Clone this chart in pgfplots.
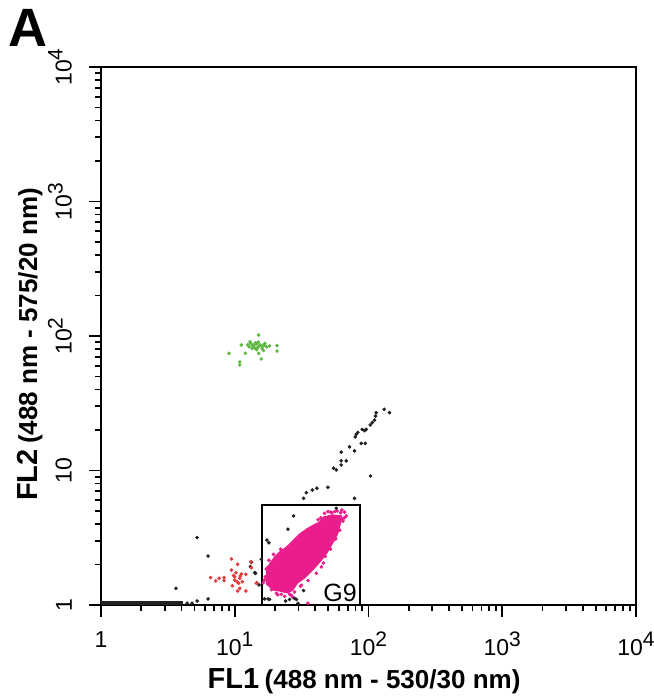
\documentclass[border=0pt]{standalone}
\usepackage{fontspec}
\setmainfont{Liberation Sans}
\usepackage{pgfplots}
\pgfplotsset{compat=1.18}
\definecolor{gpink}{RGB}{233,30,140}
\definecolor{ggreen}{RGB}{95,185,70}
\definecolor{gred}{RGB}{232,60,60}
\definecolor{gdark}{RGB}{35,35,35}
\newcommand{\tl}[1]{\fontsize{11.5}{13}\selectfont #1}
\newcommand{\sps}[1]{\raisebox{4.5pt}{\fontsize{10.5}{12}\selectfont #1}}
\begin{document}
\begin{tikzpicture}
\useasboundingbox (-50.5pt,-47pt) rectangle (276pt,302.5pt);
\begin{axis}[
  at={(0,0)}, anchor=south west,
  scale only axis, width=267.5pt, height=269pt,
  xmode=log, ymode=log,
  xmin=1, xmax=10000, ymin=1, ymax=10000,
  xtick={1,10,100,1000,10000},
  xticklabels={{\tl{1}},{\tl{10\sps{1}}},{\tl{10\sps{2}}},{\tl{10\sps{3}}},{\tl{10\sps{4}}}},
  ytick={1,10,100,1000,10000},
  yticklabels={{\tl{1}},{\tl{10}},{\tl{10\sps{2}}},{\tl{10\sps{3}}},{\tl{10\sps{4}}}},
  minor xtick={2,3,4,5,6,7,8,9,20,30,40,50,60,70,80,90,200,300,400,500,600,700,800,900,2000,3000,4000,5000,6000,7000,8000,9000},
  minor ytick={2,3,4,5,6,7,8,9,20,30,40,50,60,70,80,90,200,300,400,500,600,700,800,900,2000,3000,4000,5000,6000,7000,8000,9000},
  tick pos=left, tick align=outside,
  major tick length=6pt, minor tick length=3pt,
  every tick/.style={black, line width=0.9pt},
  axis line style={line width=1pt},
  xticklabel style={yshift=-4pt},
  yticklabel style={xshift=-5pt, rotate=90, anchor=south},
  xlabel={\bfseries{\fontsize{14.5}{17}\selectfont FL1} {\fontsize{13}{15}\selectfont (488 nm - 530/30 nm)}},
  ylabel={\bfseries{\fontsize{14.5}{17}\selectfont FL2} {\fontsize{13}{15}\selectfont (488 nm - 575/20 nm)}},
  xlabel style={at={(axis description cs:0.4916,-0.1543)}, anchor=base},
  ylabel style={at={(axis description cs:-0.1196,0.4842)}, anchor=base},
]
% dense G9 population core
\addplot[draw=gpink, fill=gpink, line width=0.6pt] coordinates {
(17.3,1.76) (18.2,2.02) (19.9,2.27) (21.7,2.48) (24.4,2.70) (27.6,3.04) (30.6,3.37) (34.5,3.67)
(38.9,3.93) (43.1,4.14) (46.2,4.51) (53.9,4.67) (62.9,4.59) (61.8,4.07) (58.7,3.37) (53.9,2.89)
(49.4,2.48) (43.8,2.12) (38.2,1.82) (33.3,1.59) (29.5,1.46) (27.1,1.29) (24.9,1.23) (21.7,1.27)
(19.5,1.29) (17.3,1.43) (17.3,1.76)};
% G9 fringe events
\addplot[only marks, mark=*, mark size=0.7pt, color=gpink] coordinates {
(46.9,4.80) (49.7,4.95) (58.4,5.00) (61.8,4.85) (66.2,4.90) (68.2,4.59) (63.2,5.08) (53.2,4.85)
(44.0,4.45) (52.0,4.90) (56.0,4.95) (66.0,4.45) (64.5,4.20) (16.7,1.53) (16.3,1.46) (17.6,1.90)
(20.5,1.22) (22.3,1.20) (23.6,1.16) (25.7,1.20) (31.5,1.40) (35.3,1.52) (40.7,1.72) (44.4,1.92)
(26.5,1.18) (35.2,1.03) (28.0,1.25) (16.9,1.62) (18.8,1.30) (17.2,1.85) (18.0,2.15) (19.5,2.38)
(22.0,2.60) (46.0,2.05) (47.5,2.30) (52.0,2.60) (57.0,3.10) (61.0,3.60) (31.0,1.38) (42.0,4.30)
(21.0,1.19) (27.0,1.15) (63.5,4.35) (55.0,3.05)};
% ungated events
\addplot[only marks, mark=*, mark size=0.7pt, color=gdark] coordinates {
(3.63,1.33) (5.23,3.17) (6.32,2.31) (5.23,1.07) (6.32,1.11) (4.80,1.03) (4.40,1.03)
(17.4,3.04) (18.0,2.90) (13.1,1.93) (14.1,1.74) (15.2,1.41) (16.7,1.11) (17.7,1.11) (13.3,2.08)
(14.3,1.72) (14.6,1.46) (15.8,2.19) (27.5,4.59) (25.0,3.66) (57.4,5.24) (32.7,6.21) (34.3,6.84)
(38.0,7.16) (41.1,7.38) (49.7,7.50) (78.6,6.21) (54.8,10.4) (57.4,10.1) (62.5,11.0) (68.2,11.8)
(62.5,11.8) (62.5,13.7) (72.1,15.0) (78.6,14.0) (103.5,9.10) (79.6,17.8) (81.0,18.6) (83.2,19.2)
(88.3,15.9) (94.5,15.9) (93.4,19.8) (96.2,20.2) (103,21.8) (106.6,22.7) (110.8,23.7) (114.1,26.9)
(112.8,25.4) (131,28.5) (143.5,26.9) (89.7,20.2) (25.7,1.10) (28.0,1.12) (28.9,1.10) (32.7,1.28)
(18.2,1.10) (24.0,1.07) (29.7,1.03)};
% events piled on the lower axis
\addplot[gdark, line width=2pt] coordinates {(1,1.04) (4.1,1.04)};
% red population
\addplot[only marks, mark=*, mark size=0.7pt, color=gred] coordinates {
(9.45,2.20) (10.5,2.01) (13.2,2.10) (13.3,1.89) (9.45,1.82) (10.2,1.74) (11.2,1.70) (12.1,1.69)
(6.59,1.60) (7.21,1.51) (7.64,1.58) (8.32,1.60) (8.32,1.52) (10.0,1.62) (10.9,1.58) (10.4,1.49)
(11.4,1.49) (9.61,1.39) (10.9,1.33) (10.5,1.27) (12.1,1.27) (14.5,1.45) (10.0,1.53) (10.7,1.45)
(9.8,1.66) (11.0,1.64)};
% green population
\addplot[only marks, mark=*, mark size=0.7pt, color=ggreen] coordinates {
(15.1,101.7) (11.2,85.7) (9.06,74.3) (12.0,74.3) (15.1,74.3) (20.7,84.7) (20.7,77.3) (15.8,67.5)
(10.9,64.1) (10.9,60.9) (12.5,86) (13.2,88) (13.8,84) (14.3,89) (14.8,82) (15.5,86) (16.2,84)
(16.8,88) (17.3,83) (13.5,81) (12.8,83) (15,90) (16,81) (14,86) (15.2,84) (14.1,81.4) (16.7,85.7)
(18.2,84.3) (13.0,90.5) (14.6,79) (16.4,78) (14.6,87.5) (13.6,85)};
% gate G9
\addplot[black, line width=1pt] coordinates {(16.1,1) (16.1,5.54) (86.7,5.54) (86.7,1)};
\node[anchor=south east, inner sep=1.5pt, font=\fontsize{12.5}{14}\selectfont] at (axis cs:86.7,1) {G9};
\end{axis}
\node[anchor=base west, inner sep=0pt, font=\fontsize{27}{30}\selectfont\bfseries] at (-46.5pt,279pt) {A};
\end{tikzpicture}
\end{document}
